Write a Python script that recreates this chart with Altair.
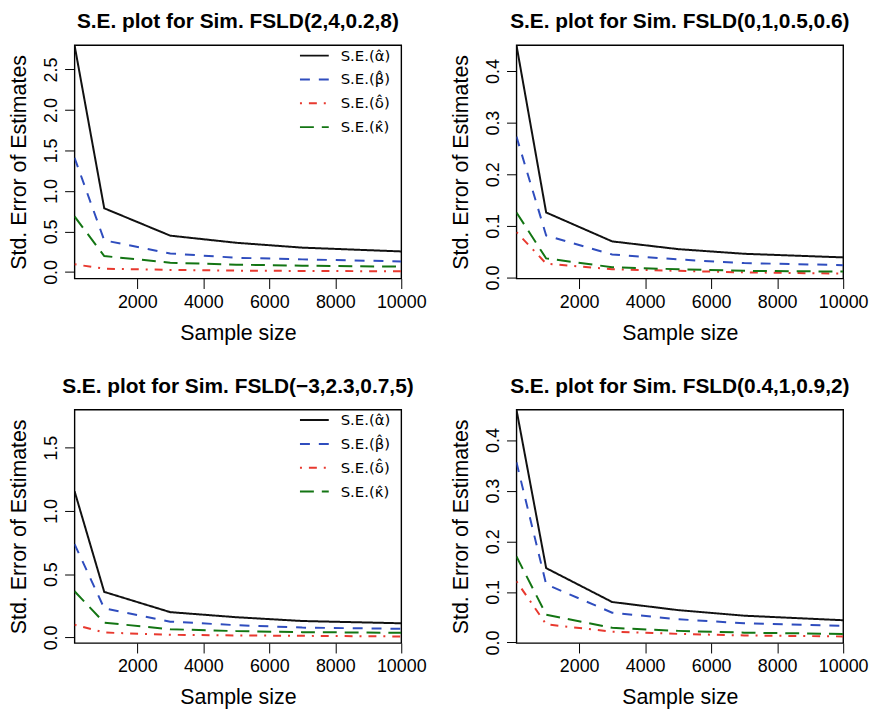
import altair as alt
import pandas as pd

sample_size = [100, 1000, 3000, 5000, 7000, 10000]
series_labels = ["S.E.(\u03b1\u0302)", "S.E.(\u03b2\u0302)", "S.E.(\u03b4\u0302)", "S.E.(\u03ba\u0302)"]

p1_alpha = [2.80, 0.786, 0.448, 0.36, 0.30, 0.253]
p1_beta = [1.41, 0.39, 0.228, 0.175, 0.155, 0.13]
p1_delta = [0.094, 0.04, 0.025, 0.016, 0.012, 0.008]
p1_kappa = [0.685, 0.196, 0.114, 0.09, 0.077, 0.065]

p2_alpha = [0.45, 0.126, 0.070, 0.055, 0.046, 0.039]
p2_beta = [0.273, 0.0815, 0.0446, 0.035, 0.028, 0.024]
p2_delta = [0.088, 0.027, 0.016, 0.013, 0.010, 0.0076]
p2_kappa = [0.126, 0.037, 0.020, 0.016, 0.013, 0.0115]

p3_alpha = [1.156, 0.36, 0.20, 0.16, 0.13, 0.112]
p3_beta = [0.738, 0.23, 0.125, 0.097, 0.078, 0.068]
p3_delta = [0.10, 0.039, 0.021, 0.016, 0.013, 0.008]
p3_kappa = [0.365, 0.117, 0.065, 0.05, 0.042, 0.037]

p4_alpha = [0.46, 0.147, 0.080, 0.064, 0.053, 0.044]
p4_beta = [0.356, 0.115, 0.059, 0.046, 0.038, 0.033]
p4_delta = [0.121, 0.036, 0.0215, 0.017, 0.014, 0.012]
p4_kappa = [0.17, 0.055, 0.029, 0.023, 0.0195, 0.017]

titles = [
    "S.E. plot for Sim. FSLD(2,4,0.2,8)",
    "S.E. plot for Sim. FSLD(0,1,0.5,0.6)",
    "S.E. plot for Sim. FSLD(\u22123,2.3,0.7,5)",
    "S.E. plot for Sim. FSLD(0.4,1,0.9,2)",
]
y_domains = [[-0.082, 2.8], [-0.002, 0.45], [-0.044, 1.8], [-0.001, 0.46]]
y_ticks = [
    [0.0, 0.5, 1.0, 1.5, 2.0, 2.5],
    [0.0, 0.1, 0.2, 0.3, 0.4],
    [0.0, 0.5, 1.0, 1.5],
    [0.0, 0.1, 0.2, 0.3, 0.4],
]
x_ticks = [2000, 4000, 6000, 8000, 10000]

panels = [
    [p1_alpha, p1_beta, p1_delta, p1_kappa],
    [p2_alpha, p2_beta, p2_delta, p2_kappa],
    [p3_alpha, p3_beta, p3_delta, p3_kappa],
    [p4_alpha, p4_beta, p4_delta, p4_kappa],
]

colors = ["#111111", "#2F4DBE", "#E8392F", "#137513"]
dashes = [[1, 0], [10, 9], [2, 7, 8, 7], [14, 8]]

FONT = "Liberation Sans"


def make_legend():
    return alt.Legend(
        title=None,
        orient="none",
        legendX=226,
        legendY=-5,
        symbolType="stroke",
        symbolSize=841,
        symbolStrokeWidth=2,
        labelFontSize=15,
        labelFont="DejaVu Sans",
        labelColor="black",
        labelOffset=11,
        rowPadding=-2,
        padding=0,
    )


def panel(i):
    rows = []
    for lab, vals in zip(series_labels, panels[i]):
        for n, v in zip(sample_size, vals):
            rows.append({"n": n, "series": lab, "se": v})
    df = pd.DataFrame(rows)
    return (
        alt.Chart(df)
        .mark_line(strokeWidth=2, clip=True)
        .encode(
            x=alt.X(
                "n:Q",
                scale=alt.Scale(domain=[100, 10000], nice=False, zero=False),
                axis=alt.Axis(
                    values=x_ticks,
                    format="d",
                    title="Sample size",
                    labelOverlap=False,
                    labelFlush=False,
                    titlePadding=11,
                ),
            ),
            y=alt.Y(
                "se:Q",
                scale=alt.Scale(domain=y_domains[i], nice=False, zero=False),
                axis=alt.Axis(
                    values=y_ticks[i],
                    format=".1f",
                    title="Std. Error of Estimates",
                    labelAngle=-90,
                    labelAlign="center",
                    labelBaseline="alphabetic",
                    labelPadding=8,
                    labelOverlap=False,
                    labelFlush=False,
                ),
            ),
            color=alt.Color(
                "series:N",
                scale=alt.Scale(domain=series_labels, range=colors),
                legend=make_legend(),
            ),
            strokeDash=alt.StrokeDash(
                "series:N",
                scale=alt.Scale(domain=series_labels, range=dashes),
                legend=make_legend(),
            ),
            order=alt.Order("n:Q"),
        )
        .properties(
            width=329,
            height=235,
            title=alt.TitleParams(
                titles[i],
                fontSize=21,
                fontWeight="bold",
                font=FONT,
                color="black",
                anchor="middle",
                baseline="alphabetic",
                offset=-4,
            ),
        )
    )


row1 = alt.hconcat(panel(0), panel(1), spacing=23)
row2 = alt.hconcat(panel(2), panel(3), spacing=23)
chart = (
    alt.vconcat(row1, row2, spacing=30)
    .resolve_scale(color="independent", strokeDash="independent", x="independent", y="independent")
    .resolve_legend(color="independent", strokeDash="independent")
    .configure(padding={"left": 0, "top": 0, "right": 0, "bottom": 0})
    .configure_view(stroke="black", strokeWidth=1.4)
    .configure_axis(
        domain=False,
        grid=False,
        ticks=True,
        tickColor="black",
        tickSize=10,
        tickWidth=1,
        labelFont=FONT,
        labelFontSize=18,
        labelColor="black",
        titleFont=FONT,
        titleFontSize=21.5,
        titleFontWeight="normal",
        titleColor="black",
        labelPadding=5,
        titlePadding=12,
    )
)

chart.save("out.html", embed_options={"renderer": "svg", "actions": False})
